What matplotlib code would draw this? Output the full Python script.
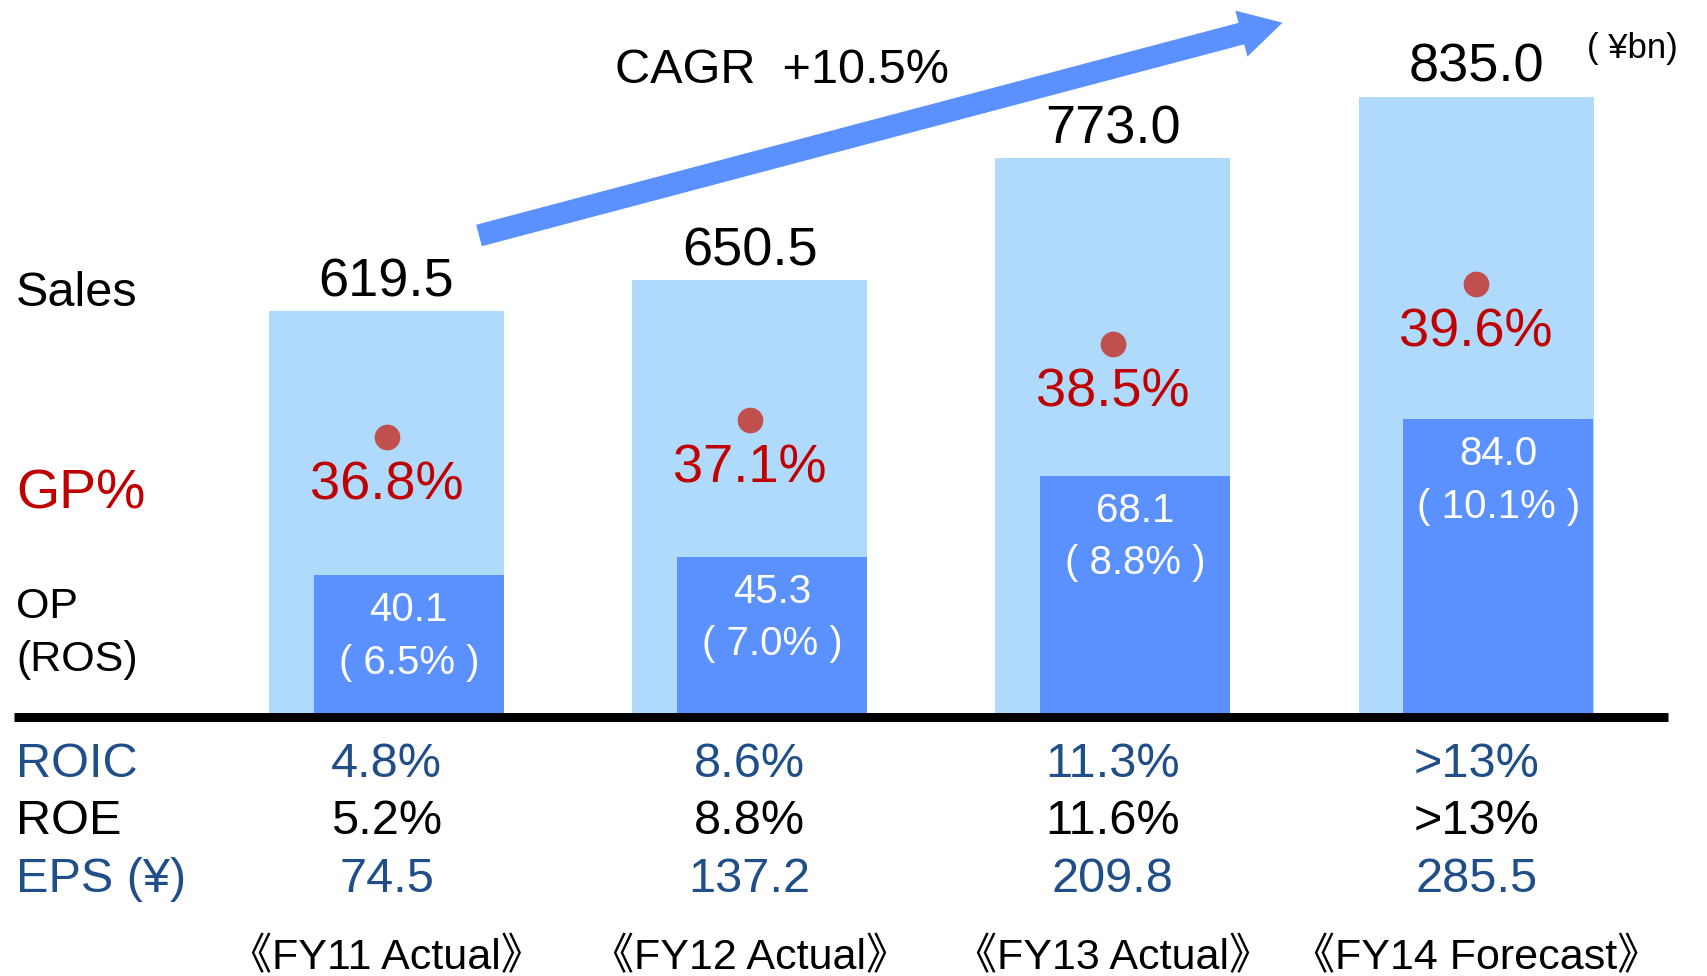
import numpy as np
import matplotlib
matplotlib.use("Agg")
import matplotlib.pyplot as plt
from matplotlib import transforms
from matplotlib.patches import Polygon

plt.rcParams['font.family'] = ['Liberation Sans', 'Noto Sans CJK JP', 'DejaVu Sans']

# ---------------- data ----------------
periods = ["《FY11 Actual》", "《FY12 Actual》", "《FY13 Actual》", "《FY14 Forecast》"]
sales = [619.5, 650.5, 773.0, 835.0]          # ¥bn
op = [40.1, 45.3, 68.1, 84.0]                 # ¥bn
ros = [6.5, 7.0, 8.8, 10.1]                   # %
gp_pct = [36.8, 37.1, 38.5, 39.6]             # %
roic = ["4.8%", "8.6%", "11.3%", ">13%"]
roe = ["5.2%", "8.8%", "11.6%", ">13%"]
eps = [74.5, 137.2, 209.8, 285.5]
cagr = 10.5

# ---------------- style ----------------
LIGHT = "#AFDAFB"
DARK = "#5A91FF"
RED = "#C00000"
DOT = "#C0504D"
NAVY = "#1F4E89"

W, H = 1707, 976
PX = 100 / 72.0


def fx(px):
    return px / W


def fy(py):
    return 1 - py / H


def base_px(center_px, size):
    # image-y of baseline so that cap-height center sits at center_px
    return center_px + 0.358 * size * PX


fig = plt.figure(figsize=(W / 100, H / 100), dpi=100)

# axes geometry (pixels)
AX_L, AX_R, AX_B, AX_T = 14, 1668, 717.5, 0
pitch = 363.2
c0 = 386.5
rect = [fx(AX_L), fy(AX_B), fx(AX_R) - fx(AX_L), fy(AX_T) - fy(AX_B)]

ax = fig.add_axes(rect)
ax2 = ax.twinx()
ax3 = ax.twinx()

x = np.arange(len(sales))
xlim = ((AX_L - c0) / pitch, (AX_R - c0) / pitch)

light_w = 235 / pitch
dark_w = 190 / pitch
dark_off = 22.3 / pitch

# Sales bars
ax.bar(x, sales, width=light_w, color=LIGHT, zorder=1)
ax.set_ylim(210.9, 932.0)

# OP bars
ax2.bar(x + dark_off, op, width=dark_w, color=DARK, zorder=1)
ax2.set_ylim(0, 202.0)

# GP% dots
ax3.plot(x, gp_pct, 'o', ms=17.5, color=DOT, zorder=3, linestyle='none')
ax3.set_ylim(31.66, 44.79)

for a in (ax, ax2, ax3):
    a.set_xlim(*xlim)
    a.set_xticks([])
    a.set_yticks([])
    for s in a.spines.values():
        s.set_visible(False)
ax3.spines['bottom'].set_visible(True)
ax3.spines['bottom'].set_linewidth(9 / PX)
ax3.spines['bottom'].set_color('black')
ax3.spines['bottom'].set_capstyle('butt')

# Sales labels
S_SALES = 39
for i, v in enumerate(sales):
    ax.annotate(f"{v:.1f}", (x[i], v), xytext=(0, 24.5 - 0.358 * S_SALES),
                textcoords='offset points', ha='center', va='baseline',
                fontsize=S_SALES, color='black')

# OP labels inside dark bars
S_OP = 29
for i, (v, r) in enumerate(zip(op, ros)):
    ax2.annotate(f"{v:.1f}", (x[i] + dark_off, v), xytext=(0, -23 - 0.358 * S_OP),
                 textcoords='offset points', ha='center', va='baseline',
                 fontsize=S_OP, color='white')
    ax2.annotate(f"( {r:.1f}% )", (x[i] + dark_off, v), xytext=(0, -60.5 - 0.358 * S_OP),
                 textcoords='offset points', ha='center', va='baseline',
                 fontsize=S_OP, color='white')

# GP% labels
S_GP = 39
for i, v in enumerate(gp_pct):
    ax3.annotate(f"{v:.1f}%", (x[i], v), xytext=(0, -31 - 0.358 * S_GP),
                 textcoords='offset points', ha='center', va='baseline',
                 fontsize=S_GP, color=RED, zorder=4)

# Left-hand labels
LX = fx(16)
fig.text(LX, fy(base_px(289, 35)), "Sales", fontsize=35, color='black', va='baseline')
fig.text(LX, fy(base_px(489, 40)), "GP%", fontsize=40, color=RED, va='baseline')
fig.text(LX, fy(base_px(602.5, 31)), "OP", fontsize=31, color='black', va='baseline')
fig.text(LX, fy(base_px(656, 31)), "(ROS)", fontsize=31, color='black', va='baseline')

S_ROW = 35
fig.text(LX, fy(base_px(760, S_ROW)), "ROIC", fontsize=S_ROW, color=NAVY, va='baseline')
fig.text(LX, fy(base_px(817, S_ROW)), "ROE", fontsize=S_ROW, color='black', va='baseline')
fig.text(LX, fy(base_px(875, S_ROW)), "EPS (¥)", fontsize=S_ROW, color=NAVY, va='baseline')

# Table rows under the bars
bt = transforms.blended_transform_factory(ax.transData, fig.transFigure)
S_FY = 31
for i in range(len(sales)):
    ax.text(x[i], fy(base_px(760, S_ROW)), roic[i], transform=bt, ha='center',
            va='baseline', fontsize=S_ROW, color=NAVY, clip_on=False)
    ax.text(x[i], fy(base_px(817, S_ROW)), roe[i], transform=bt, ha='center',
            va='baseline', fontsize=S_ROW, color='black', clip_on=False)
    ax.text(x[i], fy(base_px(875, S_ROW)), f"{eps[i]:.1f}", transform=bt, ha='center',
            va='baseline', fontsize=S_ROW, color=NAVY, clip_on=False)
    ax.text(x[i], fy(base_px(954, S_FY)), periods[i], transform=bt, ha='center',
            va='baseline', fontsize=S_FY, color='black', clip_on=False)

# Unit label
fig.text(fx(1587), fy(base_px(46, 25)), "( ¥bn)", fontsize=25, color='black', va='baseline')

# CAGR arrow (decorative)
tail = np.array([479.0, 235.5])
tip = np.array([1282.5, 22.7])
u = (tip - tail) / np.linalg.norm(tip - tail)
n = np.array([-u[1], u[0]])
sw, hw, hl = 22.2, 47.5, 42.5
base = tip - u * hl
pts = [tail + n * sw / 2, base + n * sw / 2, base + n * hw / 2, tip,
       base - n * hw / 2, base - n * sw / 2, tail - n * sw / 2]
pts_fig = [(fx(p[0]), fy(p[1])) for p in pts]
fig.patches.append(Polygon(pts_fig, closed=True, transform=fig.transFigure,
                           facecolor=DARK, edgecolor='none', zorder=5))

fig.text(fx(782), fy(base_px(65.8, 35)), f"CAGR  +{cagr:.1f}%", fontsize=35,
         color='black', ha='center', va='baseline')

fig.savefig("out.png", dpi=100, facecolor='white')
